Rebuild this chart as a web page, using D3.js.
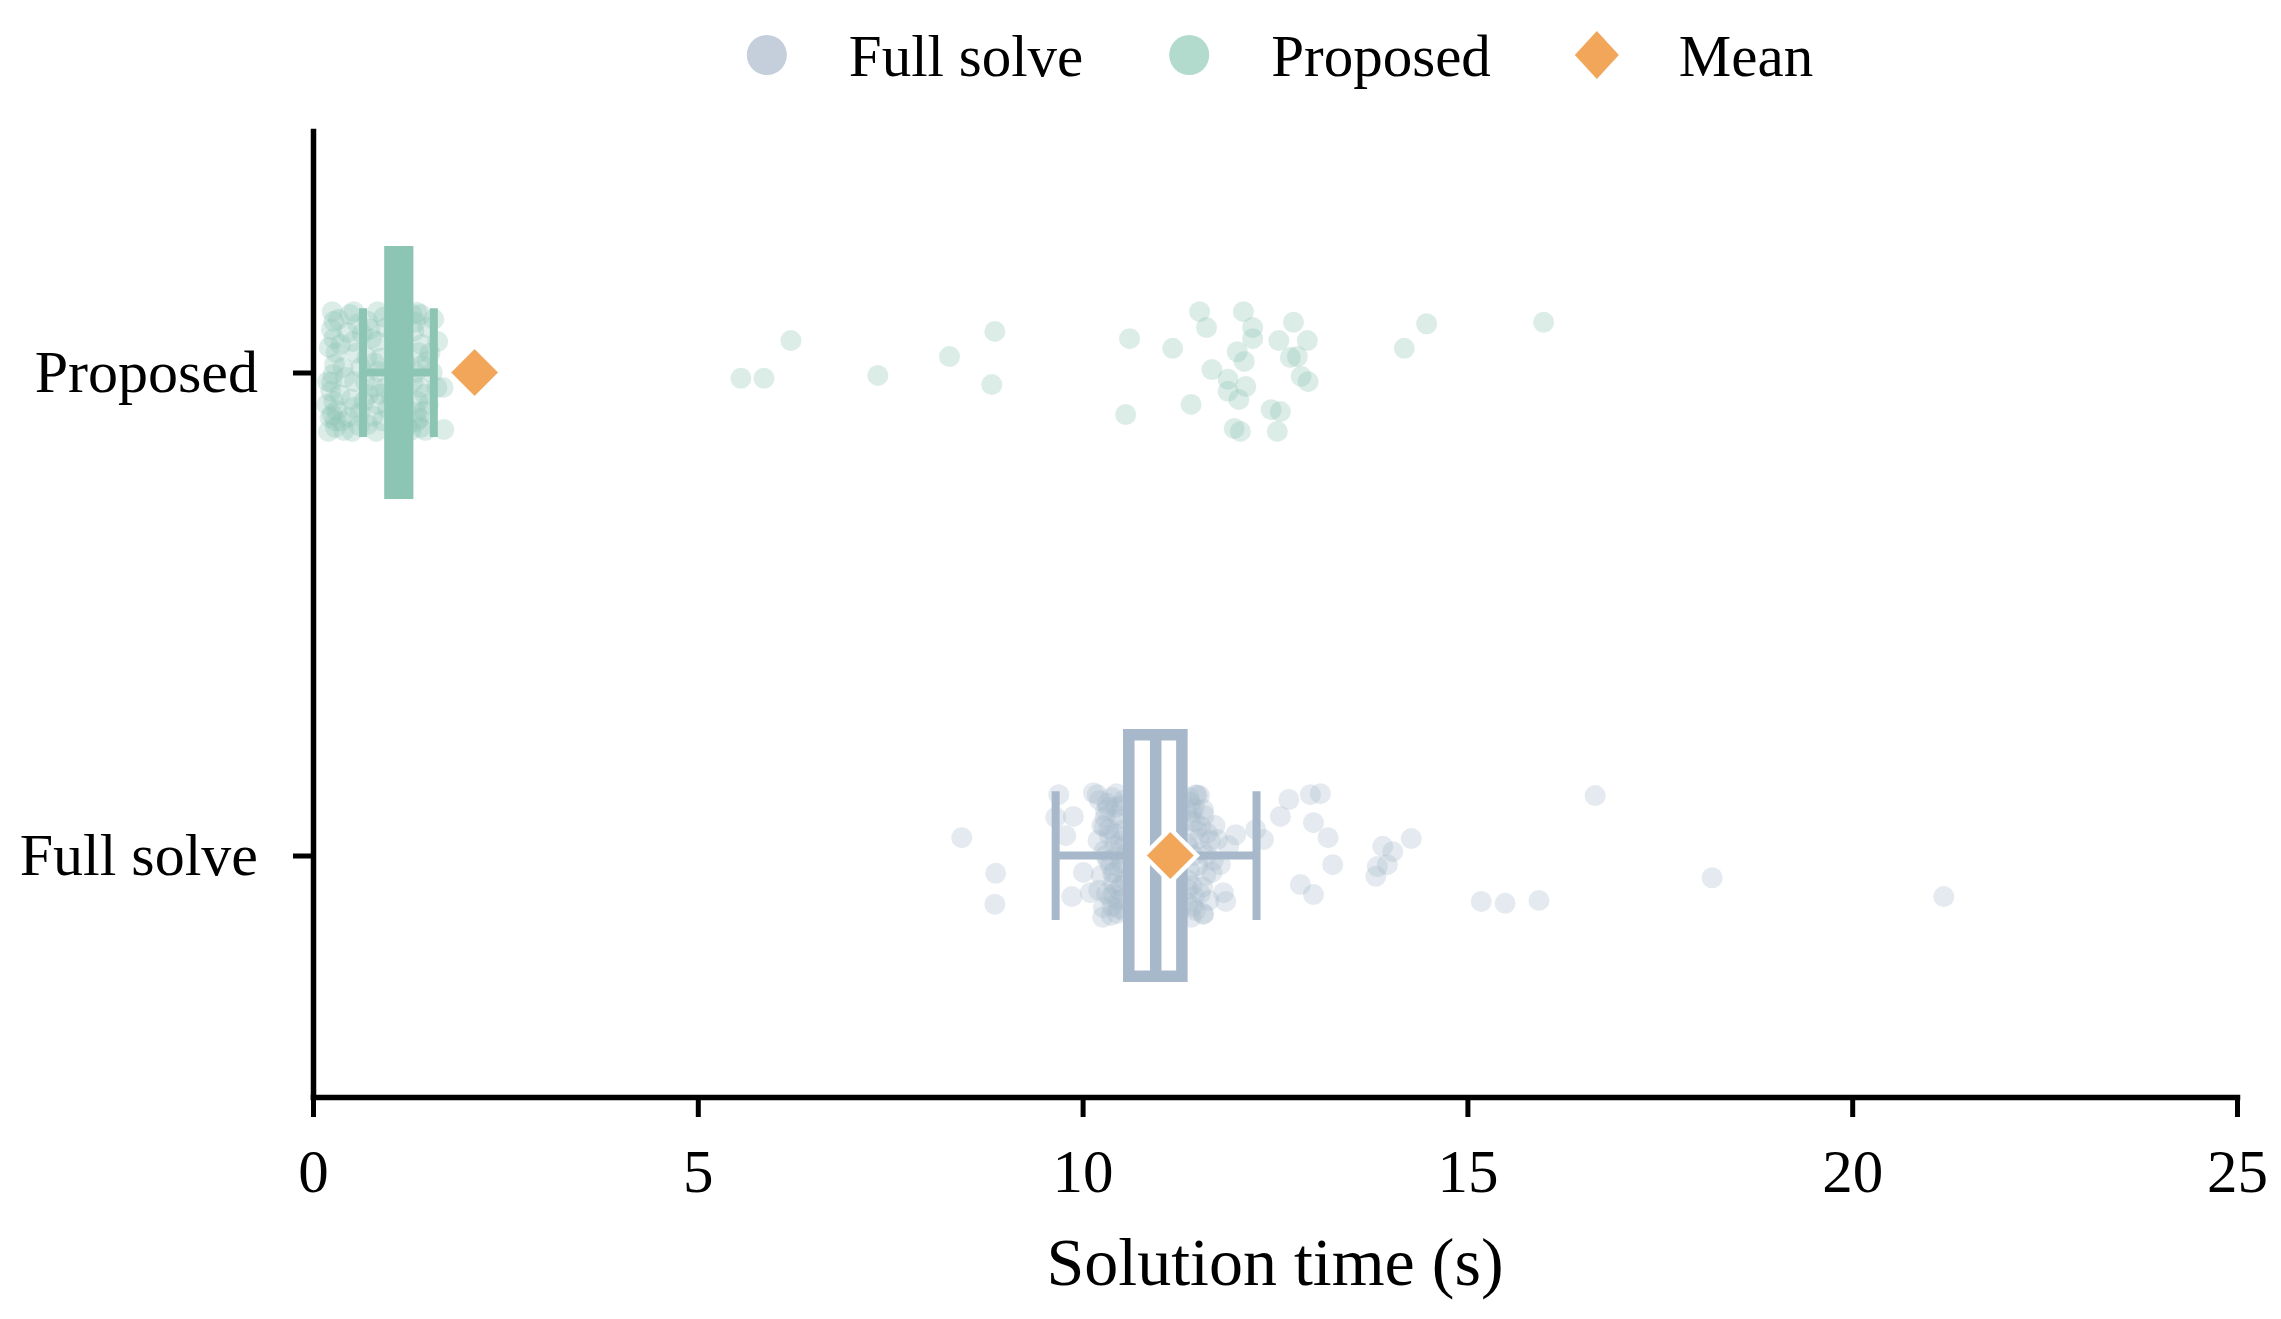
<!DOCTYPE html>
<html>
<head>
<meta charset="utf-8">
<script src="https://cdn.jsdelivr.net/npm/d3@7"></script>
<style>
    body { margin: 0; background: #fff; }
    svg text { font-family: "Liberation Serif", "Times New Roman", serif; fill: #000; }
</style>
</head>
<body>
<div id="chart"></div>
<script>
// categories top to bottom
const categories = ["Proposed", "Full solve"];
const xTicks = [0, 5, 10, 15, 20, 25];

// box statistics (seconds)
const q1 = [1.00, 10.60];
const median = [1.12, 10.95];
const q3 = [1.23, 11.29];
const whiskerLow = [0.65, 9.65];
const whiskerHigh = [1.57, 12.26];
const means = [2.10, 11.14];

// individual runs: time and vertical jitter (in category units)
const proposedTimes = [
    0.25,0.27,0.24,0.28,0.26,0.23,0.27,0.25,0.29,0.19,0.18,0.20,0.36,0.35,0.37,
    0.53,0.52,0.54,0.53,0.51,0.71,0.70,0.72,0.71,0.84,0.83,0.85,0.84,0.82,
    1.40,1.41,1.39,1.40,1.49,1.48,1.50,1.62,1.61,1.69,1.70,1.35,0.45,0.46,0.62,0.61,
    0.95,0.94,0.30,0.31,0.21,0.22,1.33,1.33,1.34,1.37,
    1.02,1.05,1.08,1.10,1.12,1.15,1.18,1.20,1.22,
    0.58,0.66,0.76,0.79,0.90,0.88,0.42,0.48,0.40,0.33,1.27,1.29,1.44,1.55,1.57,1.46,
    0.27,0.24,0.29,0.56,0.60,0.74,0.68,0.80,0.87,0.92,0.97,0.39,0.50,0.64,0.78,
    1.31,1.36,1.42,1.38,1.45,1.52,1.35,1.30,
    5.56,5.86,6.21,7.34,8.27,8.86,8.82,10.61,10.56,11.17,11.41,11.52,11.61,11.68,
    11.89,11.89,12.03,11.97,12.05,12.01,12.10,12.09,12.21,12.21,12.12,12.55,12.74,
    12.92,12.70,12.79,12.84,12.93,12.45,12.57,12.53,14.18,14.47,15.99
];
const proposedJitter = [
    -0.126,-0.106,-0.089,-0.017,0.004,0.039,0.060,0.087,0.114,0.019,0.066,0.122,-0.058,0.046,0.101,
    -0.126,-0.064,0.019,0.072,0.122,-0.106,-0.031,0.046,0.108,-0.126,-0.064,-0.002,0.066,0.122,
    -0.120,-0.058,0.031,0.114,-0.093,-0.023,0.066,-0.064,0.031,0.031,0.118,0.101,-0.083,0.093,-0.010,0.083,
    -0.093,0.031,-0.041,0.079,-0.052,0.093,-0.104,0.000,0.083,-0.041,
    0.05,-0.08,0.02,-0.03,0.09,-0.11,0.06,-0.02,0.11,
    -0.10,0.06,-0.07,0.03,0.10,-0.03,0.01,-0.12,0.12,-0.11,0.12,-0.12,0.08,0.00,-0.11,0.12,
    -0.070,0.020,0.100,-0.040,0.110,-0.090,0.020,-0.020,0.045,-0.115,0.075,-0.010,0.055,-0.080,0.090,
    -0.085,0.060,-0.015,0.095,0.045,-0.040,-0.125,0.020,
    0.012,0.012,-0.066,0.006,-0.033,-0.085,0.025,-0.070,0.087,-0.050,0.066,-0.126,-0.093,-0.006,
    0.014,0.039,0.056,0.116,0.122,-0.043,-0.023,-0.126,-0.093,-0.070,0.029,-0.066,-0.104,
    -0.066,-0.031,-0.033,0.008,0.019,0.077,0.081,0.122,-0.050,-0.101,-0.104
];

const fullTimes = [
    8.43,8.87,8.86,9.69,9.65,9.88,9.78,10.01,9.86,10.10,10.14,10.19,
    10.22,10.30,10.38,10.45,10.25,10.35,10.42,10.28,10.33,10.48,10.24,10.40,10.31,10.46,10.27,
    10.37,10.50,10.52,10.55,10.50,10.53,10.20,10.44,10.36,10.29,10.21,10.47,10.39,10.26,10.32,
    10.43,10.49,10.34,10.51,10.41,10.46,10.38,10.54,10.28,10.45,10.52,10.36,10.49,10.33,10.55,
    10.42,10.30,10.47,10.54,10.40,
    10.70,10.85,10.95,11.05,11.20,
    11.38,11.45,11.52,11.40,11.48,11.58,11.36,11.44,11.55,11.62,11.39,11.50,11.60,11.42,11.53,
    11.66,11.37,11.47,11.57,11.70,11.41,11.64,11.35,11.72,
    11.40,11.46,11.36,11.51,11.43,11.56,11.38,11.49,11.61,11.45,11.37,11.54,11.42,11.68,
    11.47,11.57,11.99,11.79,11.83,11.86,11.57,11.75,11.90,12.25,12.35,12.57,12.68,12.96,13.09,
    13.00,13.19,13.25,12.83,13.00,13.81,13.83,13.96,13.90,14.03,14.27,15.18,15.49,15.93,
    16.66,18.18,21.19
];
const fullJitter = [
    -0.037,0.037,0.101,-0.126,-0.079,-0.081,-0.041,0.035,0.085,0.077,-0.130,-0.126,
    -0.114,-0.093,-0.120,-0.083,-0.062,-0.041,-0.021,-0.010,0.010,0.025,0.041,0.058,0.079,0.093,0.108,
    0.124,-0.104,-0.052,0.000,0.062,0.114,-0.031,-0.128,0.087,-0.079,0.072,-0.004,0.037,0.128,-0.108,
    -0.100,-0.075,-0.055,0.015,0.035,0.070,0.105,-0.020,-0.060,0.120,0.090,0.020,-0.030,-0.100,0.050,
    -0.045,0.000,0.110,-0.115,0.080,
    0.03,-0.06,0.08,-0.10,0.04,
    -0.120,-0.099,-0.124,-0.072,-0.052,-0.083,-0.025,0.000,-0.010,-0.046,0.031,0.021,0.041,0.062,0.079,
    -0.031,0.099,0.114,0.120,0.010,0.128,0.093,-0.093,-0.062,
    -0.110,-0.070,0.050,-0.035,0.105,0.065,-0.015,-0.125,0.000,0.085,0.070,-0.060,-0.090,0.035,
    -0.126,-0.095,-0.043,0.019,0.077,0.095,0.122,-0.033,-0.020,-0.054,-0.033,-0.081,-0.116,-0.126,-0.128,
    -0.068,-0.037,0.019,0.060,0.081,0.043,0.023,0.019,-0.019,-0.008,-0.035,0.095,0.099,0.093,
    -0.124,0.046,0.085
];

const boxColors = ["#8cc5b3", "#a7b8ca"];
const meanColor = "#f2a65a";

const width = 2281;
const height = 1319;
const margin = {left: 313, right: 44, top: 131, bottom: 222};

const xScale = d3.scaleLinear().domain([0, 25]).range([margin.left, width - margin.right]);
const yScale = d3.scaleLinear().domain([-0.5, 1.5]).range([margin.top, height - margin.bottom]);
const step = yScale(1) - yScale(0);

const svg = d3.select("#chart")
    .append("svg")
    .attr("width", width)
    .attr("height", height)
    .attr("viewBox", `0 0 ${width} ${height}`);

// strip points first, boxes go on top
const runs = [
    proposedTimes.map((t, i) => ({cat: 0, time: t, jit: proposedJitter[i]})),
    fullTimes.map((t, i) => ({cat: 1, time: t, jit: fullJitter[i]}))
].flat();

svg.append("g")
    .selectAll("circle")
    .data(runs)
    .enter()
    .append("circle")
    .attr("cx", d => xScale(d.time))
    .attr("cy", d => yScale(d.cat) + d.jit * step)
    .attr("r", 10.5)
    .attr("fill", d => boxColors[d.cat])
    .attr("fill-opacity", 0.3);

const boxes = categories.map((c, i) => ({
    cat: i, q1: q1[i], med: median[i], q3: q3[i], lo: whiskerLow[i], hi: whiskerHigh[i], mean: means[i]
}));

const boxG = svg.append("g")
    .selectAll(".box")
    .data(boxes)
    .enter()
    .append("g")
    .attr("class", "box");

// whiskers
boxG.append("path")
    .attr("d", d => {
        const y = yScale(d.cat);
        return `M${xScale(d.lo)},${y}H${xScale(d.q1)}M${xScale(d.q3)},${y}H${xScale(d.hi)}` +
            `M${xScale(d.lo)},${y - 0.125 * step}V${y + 0.125 * step}` +
            `M${xScale(d.hi)},${y - 0.125 * step}V${y + 0.125 * step}`;
    })
    .attr("fill", "none")
    .attr("stroke", d => boxColors[d.cat])
    .attr("stroke-width", 8)
    .attr("stroke-linecap", "square");

boxG.append("rect")
    .attr("x", d => xScale(d.q1))
    .attr("y", d => yScale(d.cat) - 0.25 * step)
    .attr("width", d => xScale(d.q3) - xScale(d.q1))
    .attr("height", 0.5 * step)
    .attr("fill", "#fff")
    .attr("stroke", d => boxColors[d.cat])
    .attr("stroke-width", 11.5);

boxG.append("line")
    .attr("x1", d => xScale(d.med))
    .attr("x2", d => xScale(d.med))
    .attr("y1", d => yScale(d.cat) - 0.25 * step)
    .attr("y2", d => yScale(d.cat) + 0.25 * step)
    .attr("stroke", d => boxColors[d.cat])
    .attr("stroke-width", 11.5);

const diamond = (r) => `M0,${-r}L${r},0L0,${r}L${-r},0Z`;

boxG.append("path")
    .attr("transform", d => `translate(${xScale(d.mean)},${yScale(d.cat)})`)
    .attr("d", diamond(26.5))
    .attr("fill", meanColor)
    .attr("stroke", "#fff")
    .attr("stroke-width", 4.5)
    .attr("stroke-linejoin", "miter");

// axes
const xAxis = svg.append("g")
    .attr("transform", `translate(0,${yScale(1.5)})`)
    .call(d3.axisBottom(xScale).tickValues(xTicks).tickSize(20).tickSizeOuter(0).tickPadding(32));

const yAxis = svg.append("g")
    .attr("transform", `translate(${xScale(0)},0)`)
    .call(d3.axisLeft(yScale).tickValues([0, 1]).tickFormat(i => categories[i]).tickSize(20).tickSizeOuter(0).tickPadding(35));

[xAxis, yAxis].forEach(g => {
    g.select(".domain").attr("stroke", "#000").attr("stroke-width", 5.5).attr("stroke-linecap", "square");
    g.selectAll(".tick line").attr("stroke", "#000").attr("stroke-width", 5);
    g.selectAll(".tick text").attr("font-size", 60).attr("font-family", null);
});
xAxis.selectAll(".tick text").attr("font-size", 61);

svg.append("text")
    .attr("x", (xScale(0) + xScale(25)) / 2)
    .attr("y", 1285)
    .attr("text-anchor", "middle")
    .attr("font-size", 68)
    .text("Solution time (s)");

// legend along the top
const legendItems = [
    {label: "Full solve", shape: "circle", color: "#c5cfdb"},
    {label: "Proposed", shape: "circle", color: "#b2dbce"},
    {label: "Mean", shape: "diamond", color: meanColor}
];

const legend = svg.append("g");
let cursor = 0;
legendItems.forEach(item => {
    const g = legend.append("g").attr("transform", `translate(${cursor},0)`);
    if (item.shape === "circle") {
        g.append("circle").attr("cx", 20).attr("cy", 55).attr("r", 20).attr("fill", item.color);
    } else {
        g.append("path").attr("transform", "translate(20,55)").attr("d", `M0,-24L22,0L0,24L-22,0Z`).attr("fill", item.color);
    }
    const t = g.append("text")
        .attr("x", 102)
        .attr("y", 76)
        .attr("font-size", 59)
        .text(item.label);
    cursor += 102 + t.node().getComputedTextLength() + 86;
});
const legendWidth = cursor - 86;
legend.attr("transform", `translate(${(xScale(0) + xScale(25)) / 2 - legendWidth / 2 + 5},0)`);
</script>
</body>
</html>
